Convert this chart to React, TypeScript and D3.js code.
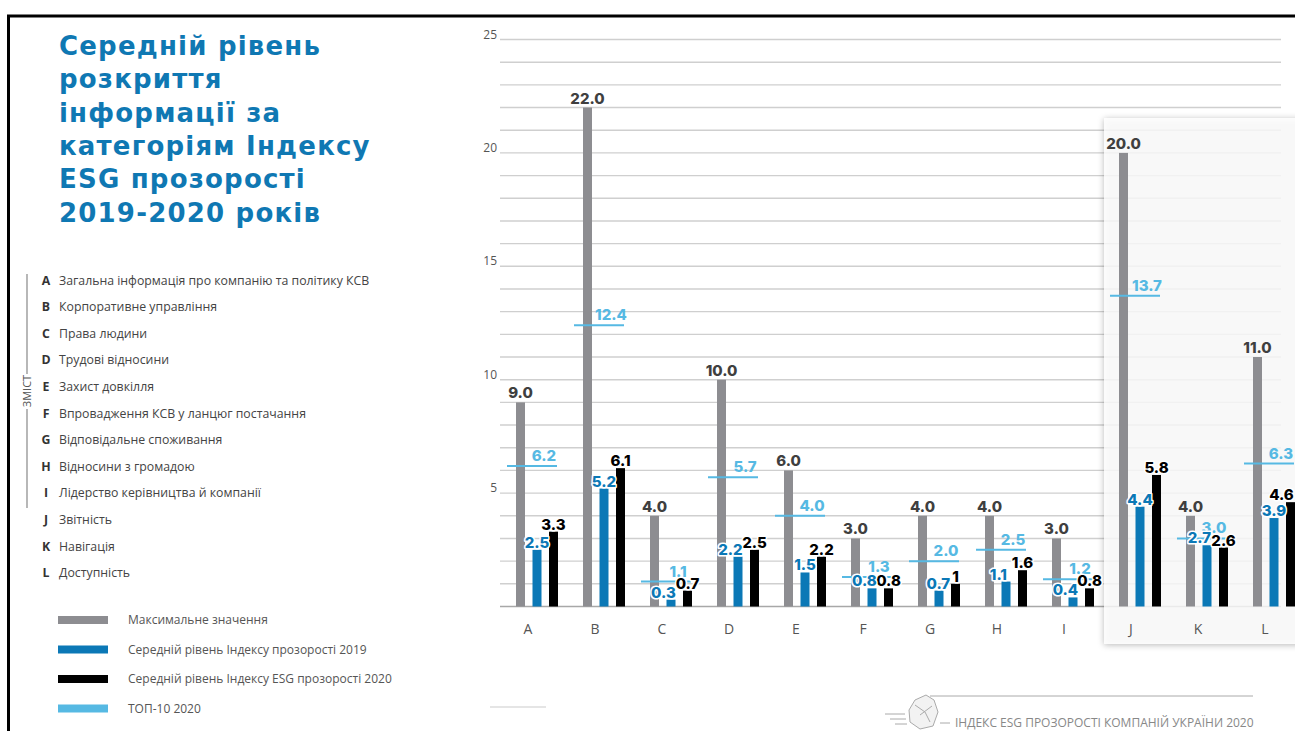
import React from 'react';
import * as d3 from 'd3';

// categories and series
const categories = ['A', 'B', 'C', 'D', 'E', 'F', 'G', 'H', 'I', 'J', 'K', 'L'];
const categoryNames = [
  'Загальна інформація про компанію та політику КСВ',
  'Корпоративне управління',
  'Права людини',
  'Трудові відносини',
  'Захист довкілля',
  'Впровадження КСВ у ланцюг постачання',
  'Відповідальне споживання',
  'Відносини з громадою',
  'Лідерство керівництва й компанії',
  'Звітність',
  'Навігація',
  'Доступність',
];
const maxValues = [9, 22, 4, 10, 6, 3, 4, 4, 3, 20, 4, 11];
const avg2019 = [2.5, 5.2, 0.3, 2.2, 1.5, 0.8, 0.7, 1.1, 0.4, 4.4, 2.7, 3.9];
const avg2020 = [3.3, 6.1, 0.7, 2.5, 2.2, 0.8, 1, 1.6, 0.8, 5.8, 2.6, 4.6];
const top10 = [6.2, 12.4, 1.1, 5.7, 4.0, 1.3, 2.0, 2.5, 1.2, 13.7, 3.0, 6.3];
const yTicks = [5, 10, 15, 20, 25];
const highlighted = ['J', 'K', 'L'];

const titleLines = [
  'Середній рівень',
  'розкриття',
  'інформації за',
  'категоріям Індексу',
  'ESG прозорості',
  '2019-2020 років',
];
const legendItems = [
  { label: 'Максимальне значення', color: '#8d8d91' },
  { label: 'Середній рівень Індексу прозорості 2019', color: '#0b78b6' },
  { label: 'Середній рівень Індексу ESG прозорості 2020', color: '#000000' },
  { label: 'ТОП-10 2020', color: '#56b9e3' },
];

const GRAY = '#8d8d91';
const BLUE = '#0b78b6';
const LIGHT = '#56b9e3';
const VALUE_FONT = 'Inter, "Open Sans", sans-serif';
const TITLE_FONT = '"DejaVu Sans", Inter, sans-serif';
const TEXT_FONT = '"Open Sans", "Noto Sans", sans-serif';

// rough width of a bold 15px value label
const labelWidth = (s: string) => s.replace('.', '').length * 9.3 + (s.includes('.') ? 4.5 : 0);

const App: React.FC = () => {
  const width = 1295;
  const height = 731;

  const x = d3.scaleBand<string>().domain(categories).range([494.5, 1298.5]);
  const y = d3.scaleLinear().domain([0, 25]).range([606.5, 39.5]);
  const gridValues = d3.range(1, 26);
  const center = (c: string) => (x(c) as number) + x.bandwidth() / 2;
  const barW = 9;

  const fmt = (v: number) => v.toFixed(1);
  const fmt2020 = (v: number) => (Number.isInteger(v) ? String(v) : v.toFixed(1));

  const boxX = center(highlighted[0]) - 27;

  // place the blue / black labels so that they do not run into each other
  const pairs = categories.map((c, i) => {
    const cx = center(c);
    const t1 = fmt(avg2019[i]);
    const t2 = fmt2020(avg2020[i]);
    const w1 = labelWidth(t1);
    const w2 = labelWidth(t2);
    let x1 = cx + 9;
    const x2 = Math.min(cx + 25.5, width - 2 - w2 / 2);
    const dy = Math.abs(y(avg2019[i]) - y(avg2020[i]));
    if (dy < 14) {
      const need = (w1 + w2) / 2 + 1;
      if (x2 - x1 < need) x1 = x2 - need;
    }
    return { x1, x2, t1, t2 };
  });

  return (
    <svg width={width} height={height} style={{ position: 'absolute', left: 0, top: 0, background: '#fff' }}>
      <defs>
        <filter id="shadow" x="-20%" y="-10%" width="140%" height="120%">
          <feDropShadow dx="0" dy="1" stdDeviation="3" floodColor="#000" floodOpacity="0.35" />
        </filter>
      </defs>
      <rect x={0} y={0} width={width} height={height} fill="#fff" />
      {/* page frame */}
      <path d={`M8.5,${height + 5} V16 H${width + 5}`} fill="none" stroke="#000" strokeWidth={3} />

      {/* title */}
      <g fontFamily={TITLE_FONT} fontWeight={700} fontSize={26} fill="#0f78b3" letterSpacing={1.2}>
        {titleLines.map((t, i) => (
          <text key={t} x={59} y={55 + i * 33.3}>{t}</text>
        ))}
      </g>

      {/* contents list */}
      <g fontFamily={TEXT_FONT} fontSize={12.3} fill="#444">
        <line x1={27} x2={27} y1={274} y2={374} stroke="#888" strokeWidth={1.2} />
        <line x1={27} x2={27} y1={409} y2={508} stroke="#888" strokeWidth={1.2} />
        <text transform="translate(31,391) rotate(-90)" textAnchor="middle" fontSize={11} fill="#555">ЗМІСТ</text>
        {categories.map((c, i) => (
          <g key={c} transform={`translate(0,${284.5 + i * 26.6})`}>
            <text x={46} textAnchor="middle" fontWeight={700} fill="#333">{c}</text>
            <text x={59}>{categoryNames[i]}</text>
          </g>
        ))}
      </g>

      {/* legend */}
      <g fontFamily={TEXT_FONT} fontSize={12} fill="#555">
        {legendItems.map((d, i) => (
          <g key={d.label} transform={`translate(0,${620 + i * 29.5})`}>
            <rect x={58} y={-4} width={50} height={8} fill={d.color} />
            <text x={128} y={4}>{d.label}</text>
          </g>
        ))}
      </g>

      {/* grid */}
      <g>
        {gridValues.map((v) => (
          <line key={v} x1={500} x2={1281} y1={y(v)} y2={y(v)} stroke="#cfcfcf" strokeWidth={1.4} />
        ))}
        <line x1={500} x2={1281} y1={y(0)} y2={y(0)} stroke="#a8a8a8" strokeWidth={1.4} />
      </g>
      <g fontFamily={TEXT_FONT} fontSize={12} fill="#555" textAnchor="end">
        {yTicks.map((v) => (
          <text key={v} x={497} y={y(v) - 1}>{v}</text>
        ))}
      </g>

      {/* highlighted box */}
      <rect x={boxX} y={118} width={width - boxX + 10} height={526} fill="#fff" fillOpacity={0.78} filter="url(#shadow)" />

      {/* bars */}
      {categories.map((c, i) => {
        const cx = center(c);
        return (
          <g key={c}>
            <rect x={cx - 12} y={y(maxValues[i])} width={barW} height={y(0) - y(maxValues[i])} fill={GRAY} />
            <rect x={cx + 4.5} y={y(avg2019[i])} width={barW} height={y(0) - y(avg2019[i])} fill={BLUE} />
            <rect x={cx + 21} y={y(avg2020[i])} width={barW} height={y(0) - y(avg2020[i])} fill="#000" />
            <line x1={cx - 21} x2={cx + 29} y1={y(top10[i])} y2={y(top10[i])} stroke={LIGHT} strokeWidth={2} />
          </g>
        );
      })}

      {/* value labels */}
      <g fontFamily={VALUE_FONT} fontWeight={800} fontSize={15} textAnchor="middle">
        {categories.map((c, i) => {
          const cx = center(c);
          const p = pairs[i];
          return (
            <g key={c}>
              <text x={cx - 7.5} y={y(maxValues[i]) - 4} fill="#3f3f3f">{fmt(maxValues[i])}</text>
              <text x={cx + 16} y={y(top10[i]) - 5} fill={LIGHT}>{fmt(top10[i])}</text>
              <text x={p.x2} y={y(avg2020[i]) - 2} fill="#000" stroke="#fff" strokeWidth={3} paintOrder="stroke" strokeLinejoin="round">{p.t2}</text>
              <text x={p.x1} y={y(avg2019[i]) - 2} fill={BLUE} stroke="#fff" strokeWidth={3} paintOrder="stroke" strokeLinejoin="round">{p.t1}</text>
            </g>
          );
        })}
      </g>

      {/* x axis labels */}
      <g fontFamily={TEXT_FONT} fontSize={14} fill="#555" textAnchor="middle">
        {categories.map((c) => (
          <text key={c} x={center(c)} y={634}>{c}</text>
        ))}
      </g>

      {/* footer */}
      <line x1={490} x2={546} y1={707} y2={707} stroke="#ddd" strokeWidth={1.5} />
      <g stroke="#aaa" fill="none" strokeWidth={1}>
        <line x1={930} x2={1253} y1={696} y2={696} />
        <line x1={940} x2={950} y1={723} y2={723} />
        <line x1={885} x2={905} y1={714} y2={714} />
        <line x1={890} x2={906} y1={719} y2={719} />
        <line x1={895} x2={907} y1={724} y2={724} />
        <path d="M915,700 L926,695 L934,700 L938,712 L933,726 L920,729 L910,722 L909,710 Z" fill="#f2f2f2" />
        <path d="M915,705 L925,712 L930,722 M920,715 L932,706" />
      </g>
      <text x={955} y={727} fontFamily={TEXT_FONT} fontSize={12} fill="#888">ІНДЕКС ESG ПРОЗОРОСТІ КОМПАНІЙ УКРАЇНИ 2020</text>
    </svg>
  );
};

export default App;
